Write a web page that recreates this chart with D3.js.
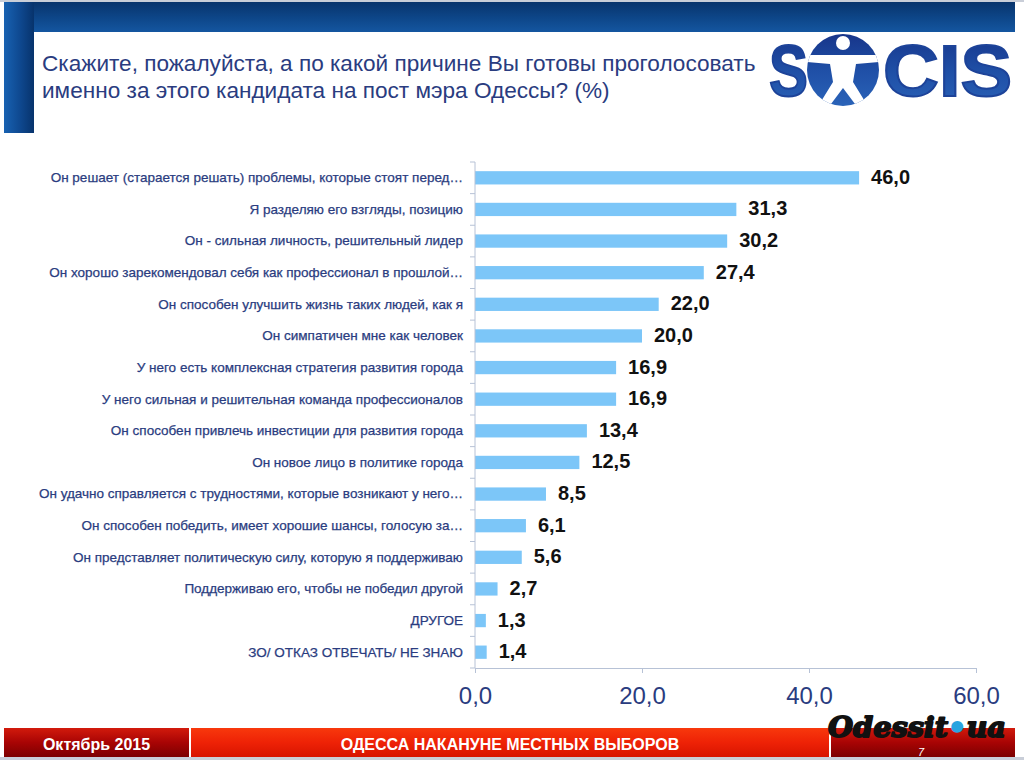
<!DOCTYPE html>
<html>
<head>
<meta charset="utf-8">
<script src="https://cdn.jsdelivr.net/npm/d3@7"></script>
<style>
  body { margin: 0; background: #ffffff; }
  svg { display: block; }
</style>
</head>
<body>
<svg></svg>
<script>
var categories = [
  "Он решает (старается решать) проблемы,  которые стоят перед…",
  "Я разделяю его взгляды, позицию",
  "Он - сильная личность, решительный лидер",
  "Он хорошо зарекомендовал себя как профессионал в прошлой…",
  "Он способен улучшить жизнь таких людей, как я",
  "Он симпатичен  мне как человек",
  "У него есть комплексная  стратегия развития города",
  "У него сильная и решительная команда профессионалов",
  "Он способен привлечь инвестиции для развития города",
  "Он новое лицо в политике города",
  "Он удачно справляется с трудностями, которые возникают у него…",
  "Он способен победить, имеет хорошие шансы, голосую за…",
  "Он представляет политическую силу, которую я поддерживаю",
  "Поддерживаю его, чтобы не победил другой",
  "ДРУГОЕ",
  "ЗО/ ОТКАЗ ОТВЕЧАТЬ/ НЕ ЗНАЮ"
];
var values = [46.0, 31.3, 30.2, 27.4, 22.0, 20.0, 16.9, 16.9, 13.4, 12.5, 8.5, 6.1, 5.6, 2.7, 1.3, 1.4];
var xTicks = [0, 20, 40, 60];
var titleLines = [
  "Скажите, пожалуйста, а по какой причине Вы готовы проголосовать",
  "именно за этого кандидата на пост мэра Одессы? (%)"
];
var footerTexts = ["Октябрь 2015", "ОДЕССА  НАКАНУНЕ  МЕСТНЫХ  ВЫБОРОВ", "7"];

var width = 1024;
var height = 760;
var navy = "#2a3c80";
var comma = function(v) { return d3.format(".1f")(v).replace(".", ","); };

var svg = d3.select("svg")
            .attr("width", width)
            .attr("height", height);

var defs = svg.append("defs");

function gradient(id, x2, y2, stops)
{
  var g = defs.append("linearGradient")
              .attr("id", id)
              .attr("x1", 0).attr("y1", 0)
              .attr("x2", x2).attr("y2", y2);
  stops.forEach(function(s, i)
  {
    g.append("stop")
     .attr("offset", (i / (stops.length - 1)) * 100 + "%")
     .attr("stop-color", s);
  });
}

gradient("topBar", 0, 1, ["#08346c", "#0d4587", "#1456a0"]);
gradient("sideBar", 1, 0, ["#1862b2", "#0f4a92", "#07336c"]);
gradient("logo", 0, 1, ["#17358a", "#1f4fa6", "#2a63b8"]);
gradient("darkRed", 0, 1, ["#d21a0c", "#a80404", "#7c0000"]);
gradient("brightRed", 0, 1, ["#f8380c", "#ee2206", "#d81400"]);

/*header*/
svg.append("rect")
   .attr("x", 0).attr("y", 0)
   .attr("width", width).attr("height", 2)
   .attr("fill", "#c9ced8");

svg.append("rect")
   .attr("x", 4).attr("y", 2)
   .attr("width", 1011).attr("height", 30)
   .attr("fill", "url(#topBar)");

svg.append("rect")
   .attr("x", 4).attr("y", 2)
   .attr("width", 30).attr("height", 131)
   .attr("fill", "url(#sideBar)");

svg.selectAll(".title")
   .data(titleLines)
   .enter()
   .append("text")
   .attr("class", "title")
   .attr("x", 42)
   .attr("y", function(d, i) { return 71 + i * 27; })
   .attr("font-family", "Liberation Sans, Arial, sans-serif")
   .attr("font-size", 22.6)
   .attr("fill", navy)
   .text(function(d) { return d; });

/*SOCIS logo*/
var logo = svg.append("g");

logo.append("text")
    .attr("x", 769).attr("y", 96)
    .attr("font-family", "Liberation Sans, Arial, sans-serif")
    .attr("font-weight", "bold")
    .attr("font-size", 72)
    .attr("textLength", 39)
    .attr("lengthAdjust", "spacingAndGlyphs")
    .attr("fill", "url(#logo)")
    .attr("stroke", "#1d4399")
    .attr("stroke-width", 2)
    .text("S");

logo.append("circle")
    .attr("cx", 843).attr("cy", 70).attr("r", 36)
    .attr("fill", "url(#logo)");

defs.append("clipPath")
    .attr("id", "logoClip")
    .append("circle")
    .attr("cx", 843).attr("cy", 70).attr("r", 36);

logo.append("circle")
    .attr("cx", 843).attr("cy", 43).attr("r", 7)
    .attr("fill", "#ffffff");

logo.append("polygon")
    .attr("clip-path", "url(#logoClip)")
    .attr("points", "806,55 880,55 880,62 856,64 853,82 869,108 858,108 843,88 828,108 817,108 833,82 830,64 806,62")
    .attr("fill", "#ffffff");

logo.append("text")
    .attr("x", 883).attr("y", 96)
    .attr("font-family", "Liberation Sans, Arial, sans-serif")
    .attr("font-weight", "bold")
    .attr("font-size", 72)
    .attr("textLength", 129)
    .attr("lengthAdjust", "spacingAndGlyphs")
    .attr("fill", "url(#logo)")
    .attr("stroke", "#1d4399")
    .attr("stroke-width", 2)
    .text("CIS");

/*chart*/
var x = d3.scaleLinear()
          .domain([0, 60])
          .range([475, 976]);

var y = d3.scaleBand()
          .domain(categories)
          .range([162, 668]);

var barHeight = y.bandwidth() * 0.42;

svg.selectAll(".bar")
   .data(values)
   .enter()
   .append("rect")
   .attr("class", "bar")
   .attr("x", x(0))
   .attr("y", function(d, i) { return y(categories[i]) + y.bandwidth() / 2 - barHeight / 2; })
   .attr("width", function(d) { return x(d) - x(0); })
   .attr("height", barHeight)
   .attr("fill", "#7cc6f8");

svg.selectAll(".value")
   .data(values)
   .enter()
   .append("text")
   .attr("class", "value")
   .attr("x", function(d) { return x(d) + 12; })
   .attr("y", function(d, i) { return y(categories[i]) + y.bandwidth() / 2 + 6; })
   .attr("font-family", "Liberation Sans, Arial, sans-serif")
   .attr("font-weight", "bold")
   .attr("font-size", 20)
   .attr("fill", "#111111")
   .text(function(d) { return comma(d); });

/*y axis*/
var yAxis = svg.append("g")
               .attr("transform", "translate(" + x(0) + ",0)")
               .call(d3.axisLeft(y).tickSize(0).tickPadding(12));

yAxis.select(".domain").remove();
yAxis.selectAll("text")
     .attr("font-family", "Liberation Sans, Arial, sans-serif")
     .attr("font-size", 13.5)
     .attr("fill", navy)
     .attr("stroke", navy)
     .attr("stroke-width", 0.25);

svg.selectAll(".ytick")
   .data(d3.range(categories.length + 1))
   .enter()
   .append("line")
   .attr("class", "ytick")
   .attr("x1", x(0) - 5)
   .attr("x2", x(0))
   .attr("y1", function(i) { return y.range()[0] + i * y.step(); })
   .attr("y2", function(i) { return y.range()[0] + i * y.step(); })
   .attr("stroke", "#b7c2d6");

svg.append("line")
   .attr("x1", x(0)).attr("x2", x(0))
   .attr("y1", y.range()[0]).attr("y2", y.range()[1])
   .attr("stroke", "#b7c2d6");

/*x axis*/
var xAxis = svg.append("g")
               .attr("transform", "translate(0," + y.range()[1] + ")")
               .call(d3.axisBottom(x)
                       .tickValues(xTicks)
                       .tickFormat(comma)
                       .tickSize(5)
                       .tickPadding(14));

xAxis.select(".domain").attr("stroke", "#b7c2d6");
xAxis.selectAll("line").attr("stroke", "#b7c2d6");
xAxis.selectAll("text")
     .attr("font-family", "Liberation Sans, Arial, sans-serif")
     .attr("font-size", 24)
     .attr("fill", navy);

/*footer*/
var boxes = [
  {x: 4, w: 185, fill: "url(#darkRed)"},
  {x: 191, w: 638, fill: "url(#brightRed)"},
  {x: 831, w: 184, fill: "url(#darkRed)"}
];

svg.append("rect")
   .attr("x", 0).attr("y", 757)
   .attr("width", width).attr("height", 3)
   .attr("fill", "#c9ced8");

svg.selectAll(".fbox")
   .data(boxes)
   .enter()
   .append("rect")
   .attr("class", "fbox")
   .attr("x", function(d) { return d.x; })
   .attr("y", 728)
   .attr("width", function(d) { return d.w; })
   .attr("height", 29)
   .attr("fill", function(d) { return d.fill; });

svg.selectAll(".ftext")
   .data(footerTexts)
   .enter()
   .append("text")
   .attr("class", "ftext")
   .attr("x", function(d, i) { return i == 2 ? 921 : boxes[i].x + boxes[i].w / 2; })
   .attr("y", function(d, i) { return i == 2 ? 756 : 750; })
   .attr("text-anchor", "middle")
   .attr("font-family", "Liberation Sans Narrow, Liberation Sans, Arial, sans-serif")
   .attr("font-weight", function(d, i) { return i == 2 ? "normal" : "bold"; })
   .attr("font-style", function(d, i) { return i == 2 ? "italic" : "normal"; })
   .attr("font-size", function(d, i) { return i == 2 ? 11 : 16; })
   .attr("fill", "#ffffff")
   .text(function(d) { return d; });

/*watermark*/
var mark = svg.append("text")
              .attr("x", 828).attr("y", 737)
              .attr("font-family", "DejaVu Serif, serif")
              .attr("font-weight", "bold")
              .attr("font-style", "italic")
              .attr("font-size", 28)
              .attr("textLength", 178)
              .attr("lengthAdjust", "spacingAndGlyphs")
              .attr("fill", "#111111")
              .attr("stroke", "#111111")
              .attr("stroke-width", 1.8)
              .attr("stroke-linejoin", "round");

mark.append("tspan").text("Odessit");
mark.append("tspan").attr("fill", "#2aa4e0").attr("stroke", "#2aa4e0").text("•");
mark.append("tspan").text("ua");
</script>
</body>
</html>
